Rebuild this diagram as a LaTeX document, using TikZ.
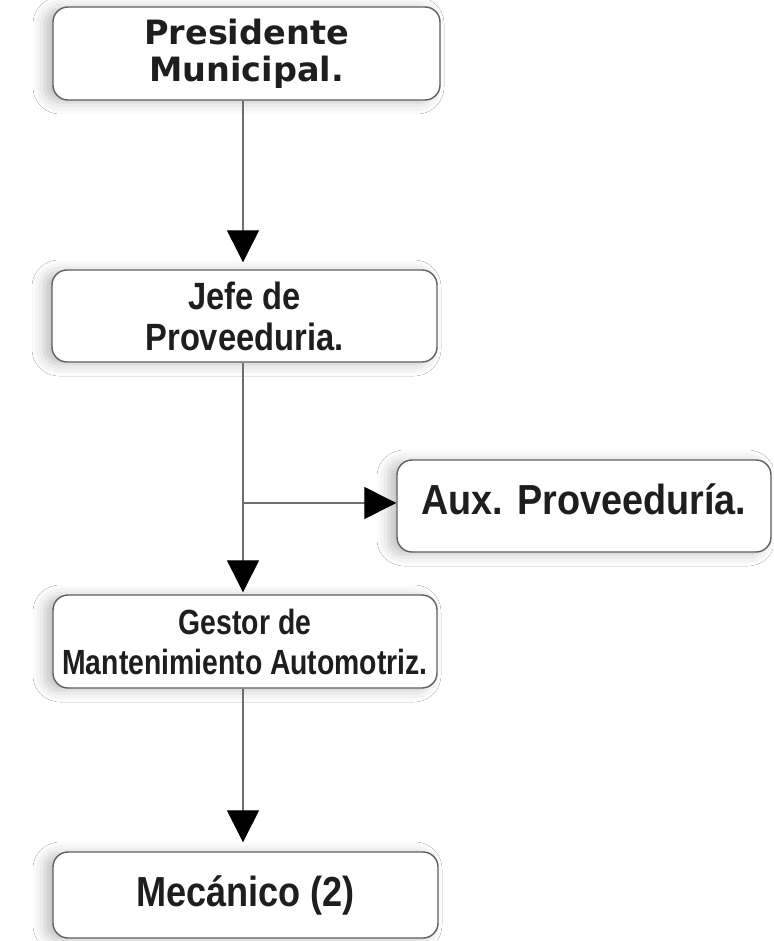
\documentclass[tikz,border=0pt]{standalone}
\usepackage{fontspec}
\usetikzlibrary{arrows.meta,shadows.blur}
\newfontfamily\wideface{DejaVu Sans}
\newfontfamily\narrowA[FakeStretch=0.81]{Liberation Sans}
\newfontfamily\narrowB[FakeStretch=0.86]{Liberation Sans}
\newfontfamily\narrowC[FakeStretch=0.9]{Liberation Sans}
\definecolor{boxline}{RGB}{95,95,95}
\definecolor{conn}{RGB}{110,110,110}
\definecolor{ink}{RGB}{30,30,30}
\tikzset{
  orgbox/.style={draw=boxline, line width=1.4pt, rounded corners=15pt, fill=white,
    inner sep=0pt, align=center, text=ink,
    blur shadow={shadow xshift=-8pt, shadow yshift=-2pt, shadow blur radius=12pt, shadow opacity=25}},
  conline/.style={draw=conn, line width=1.3pt,
    -{Triangle[width=32pt,length=32pt,fill=black,color=black]}}
}
\begin{document}
\begin{tikzpicture}[x=1pt,y=-1pt]
\useasboundingbox[fill=white] (0,0) rectangle (773,941);
\node[orgbox, minimum width=387pt, minimum height=93pt,
  font=\wideface\bfseries\fontsize{33.5}{37}\selectfont] (pres) at (246.5,53.5)
  {Presidente\\Municipal.};
\node[orgbox, minimum width=385pt, minimum height=92pt,
  font=\narrowB\bfseries\fontsize{38}{41}\selectfont] (jefe) at (244.5,316)
  {Jefe de\\Proveeduria.};
\node[orgbox, minimum width=374pt, minimum height=92pt, text depth=14pt,
  font=\narrowC\bfseries\fontsize{42}{46}\selectfont] (aux) at (584,506)
  {Aux. Proveeduría.};
\node[orgbox, minimum width=384pt, minimum height=93pt,
  font=\narrowA\bfseries\fontsize{35}{40}\selectfont] (gest) at (245,641.5)
  {Gestor de\\Mantenimiento Automotriz.};
\node[orgbox, minimum width=385pt, minimum height=86pt,
  font=\narrowB\bfseries\fontsize{42}{46}\selectfont] (mec) at (245.5,895)
  {Mecánico (2)};
\coordinate (col) at (243,0);
\coordinate (split) at (243,503);
\draw[conline, shorten >=7pt] (pres.south -| col) -- (jefe.north -| col);
\draw[conline, shorten >=2pt] (jefe.south -| col) -- (gest.north -| col);
\draw[conline] (split) -- (split -| aux.west);
\draw[conline, shorten >=9pt] (gest.south -| col) -- (mec.north -| col);
\end{tikzpicture}
\end{document}
